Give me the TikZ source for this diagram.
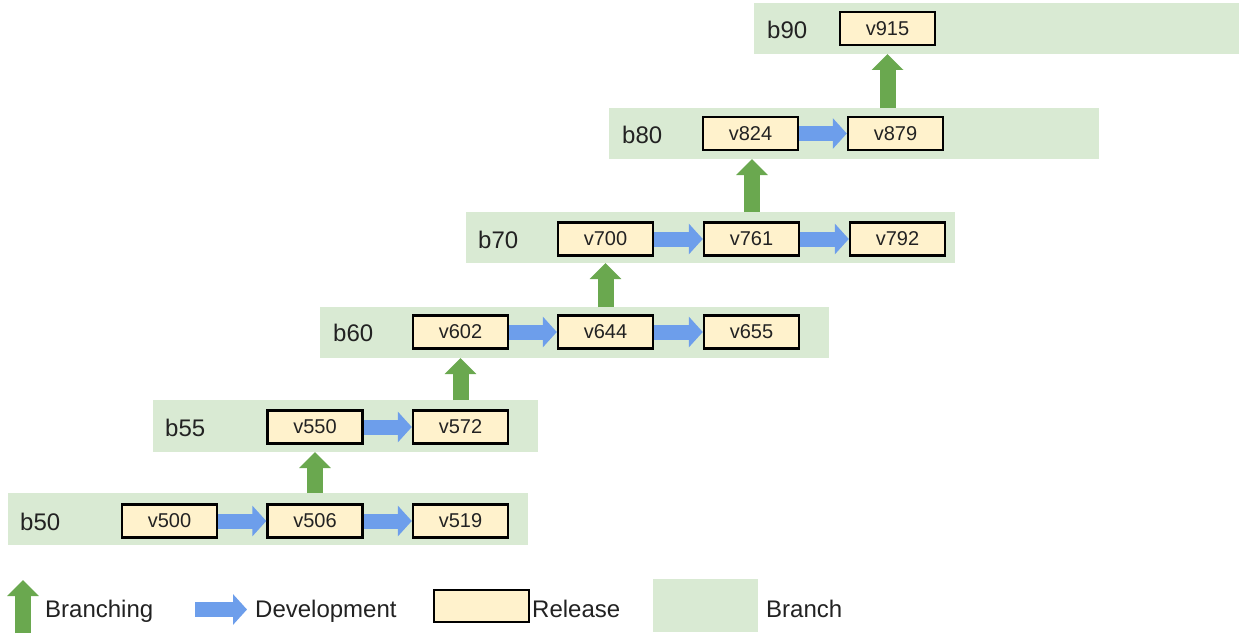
\documentclass[tikz,border=0pt]{standalone}
\usepackage{fontspec}
\setmainfont{Liberation Sans}
\usetikzlibrary{arrows.meta}
\definecolor{bandc}{HTML}{D9EAD3}
\definecolor{relc}{HTML}{FFF2CC}
\definecolor{devc}{HTML}{6D9EEB}
\definecolor{brc}{HTML}{6AA84F}
\definecolor{txtc}{HTML}{222222}
\tikzset{
  band/.style={fill=bandc, draw=none, inner sep=0pt, outer sep=0pt, anchor=north west},
  rel/.style={fill=relc, draw=black, line width=2.4pt, minimum width=95pt, minimum height=33pt, inner sep=0pt,
    font=\fontsize{20pt}{24pt}\selectfont, text=txtc},
  blab/.style={anchor=base west, inner sep=0pt, font=\fontsize{24pt}{28pt}\selectfont, text=txtc},
  devarrow/.style={draw=devc, line width=15pt, -{Triangle[length=14pt,width=30pt]}},
  brarrow/.style={draw=brc, line width=16pt, -{Triangle[length=16pt,width=31pt]}},
}
\begin{document}
\begin{tikzpicture}[x=1pt,y=-1pt]
\useasboundingbox (0,0) rectangle (1239,634);
% bands
\node[band, minimum width=520pt, minimum height=52pt] (B50) at (8,493) {};
\node[band, minimum width=385pt, minimum height=52pt] (B55) at (153,400) {};
\node[band, minimum width=509pt, minimum height=51pt] (B60) at (320,307) {};
\node[band, minimum width=489pt, minimum height=51pt] (B70) at (466,212) {};
\node[band, minimum width=490pt, minimum height=51pt] (B80) at (609,108) {};
\node[band, minimum width=485pt, minimum height=51pt] (B90) at (754,3) {};
% band labels
\node[blab] (l50) at (20,530.5) {b50};
\node[blab] (l55) at (165,436.5) {b55};
\node[blab] (l60) at (333,341.5) {b60};
\node[blab] (l70) at (478,248.5) {b70};
\node[blab] (l80) at (622,143) {b80};
\node[blab] (l90) at (767,38) {b90};
% releases
\node[rel] (v500) at (169.5,521) {v500};
\node[rel] (v506) at (315,521) {v506};
\node[rel] (v519) at (460.5,521) {v519};
\node[rel] (v550) at (315,427) {v550};
\node[rel] (v572) at (460.5,427) {v572};
\node[rel] (v602) at (460.5,332) {v602};
\node[rel] (v644) at (605.5,332) {v644};
\node[rel] (v655) at (751.5,332) {v655};
\node[rel] (v700) at (605.5,239) {v700};
\node[rel] (v761) at (751.5,239) {v761};
\node[rel] (v792) at (897.5,239) {v792};
\node[rel] (v824) at (750.5,133.5) {v824};
\node[rel] (v879) at (895.5,133.5) {v879};
\node[rel] (v915) at (887.5,28.5) {v915};
% development arrows
\draw[devarrow] (v500) -- (v506);
\draw[devarrow] (v506) -- (v519);
\draw[devarrow] (v550) -- (v572);
\draw[devarrow] (v602) -- (v644);
\draw[devarrow] (v644) -- (v655);
\draw[devarrow] (v700) -- (v761);
\draw[devarrow] (v761) -- (v792);
\draw[devarrow] (v824) -- (v879);
% branching arrows
\draw[brarrow] (v550.south |- B50.north) -- (v550.south |- B55.south);
\draw[brarrow] (v602.south |- B55.north) -- (v602.south |- B60.south);
\draw[brarrow] (v700.south |- B60.north) -- (v700.south |- B70.south);
\draw[brarrow] (752,212) coordinate (a80) -- (a80 |- B80.south);
\draw[brarrow] (v915.south |- B80.north) -- (v915.south |- B90.south);
% legend
\coordinate (lg1) at (23,633);
\coordinate (lg2) at (23,580);
\draw[brarrow] (lg1) -- (lg2);
\node[blab] (tbr) at (45,617) {Branching};
\coordinate (ld1) at (195,609.5);
\coordinate (ld2) at (247,609.5);
\draw[devarrow] (ld1) -- (ld2);
\node[blab] (tdev) at (255,617) {Development};
\node[rel, minimum width=95pt, minimum height=32pt] (lrel) at (481.5,606) {};
\node[blab] (trel) at (532,617) {Release};
\node[band, minimum width=105pt, minimum height=53pt] (lband) at (653,579) {};
\node[blab] (tband) at (766,617) {Branch};
\end{tikzpicture}
\end{document}
